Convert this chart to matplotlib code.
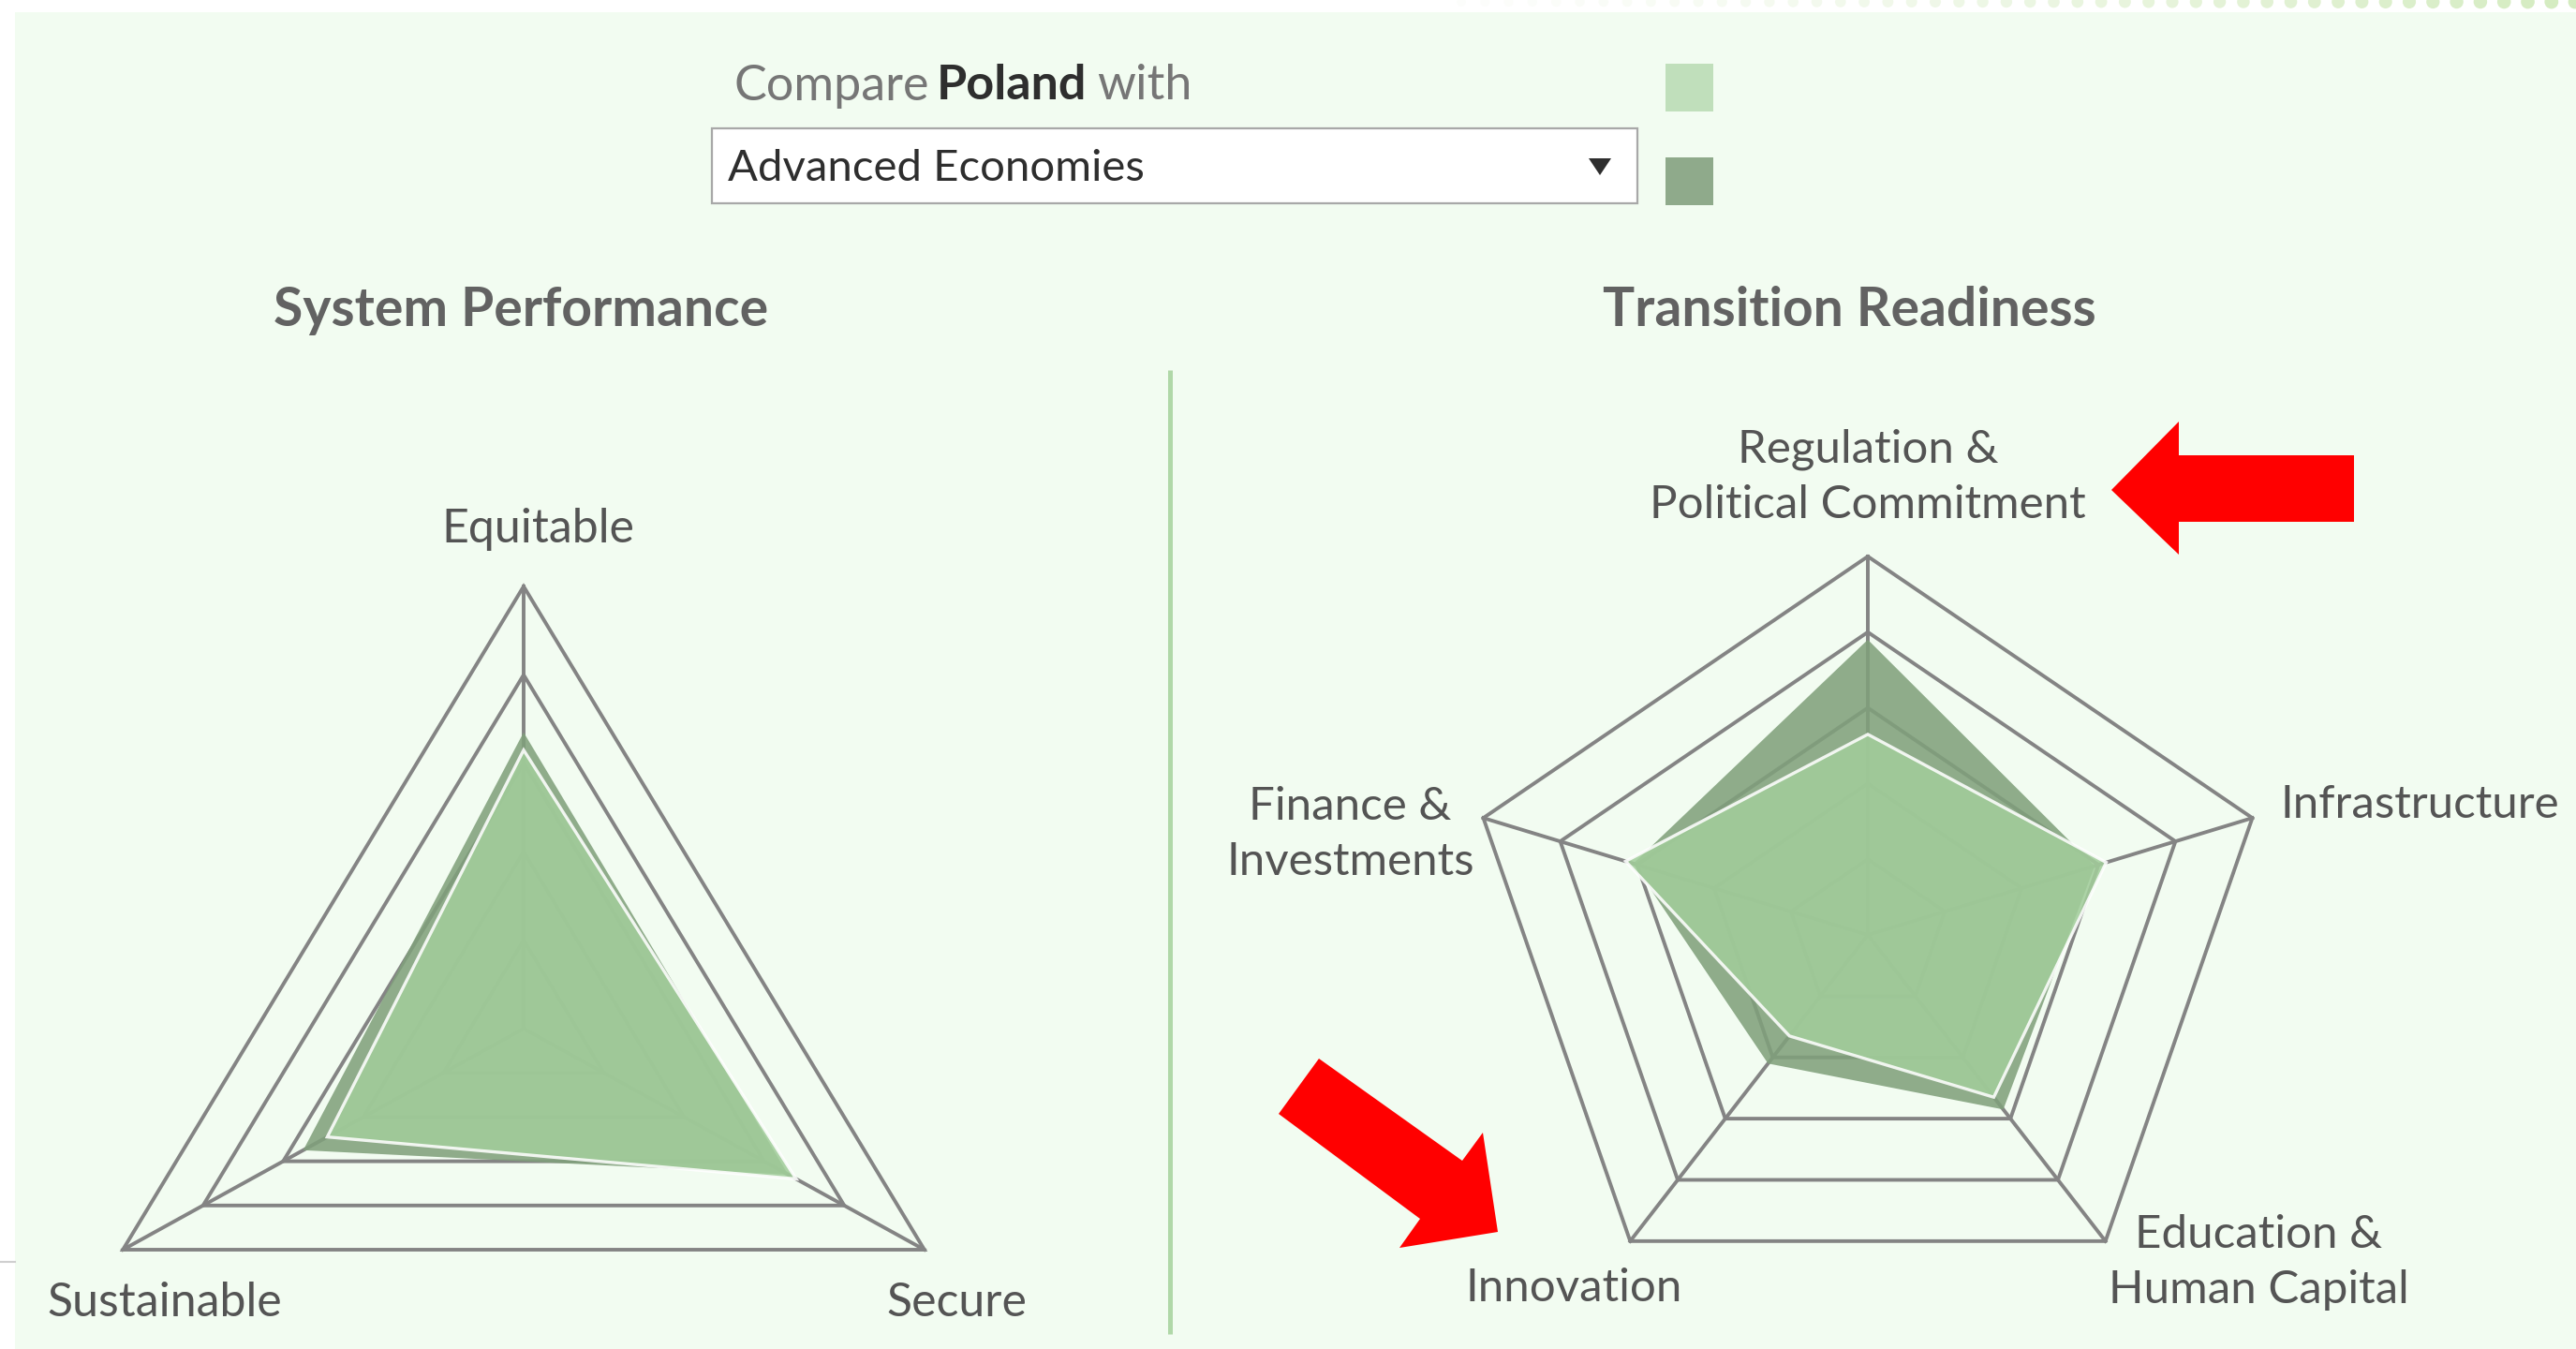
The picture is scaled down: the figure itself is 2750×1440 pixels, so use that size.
import numpy as np
import matplotlib
matplotlib.use("Agg")
import matplotlib.pyplot as plt
from matplotlib.patches import Polygon, Rectangle, Circle

# ---------------- data ----------------
sp_categories = ["Equitable", "Secure", "Sustainable"]
sp_poland = [0.63, 0.68, 0.49]
sp_advanced = [0.67, 0.66, 0.55]

tr_categories = ["Regulation &\nPolitical Commitment", "Infrastructure",
                 "Education &\nHuman Capital", "Innovation", "Finance &\nInvestments"]
tr_poland = [0.53, 0.62, 0.53, 0.33, 0.63]
tr_advanced = [0.78, 0.59, 0.57, 0.42, 0.61]

ring_levels = [0.2, 0.4, 0.6, 0.8, 1.0]
country = "Poland"
comparison = "Advanced Economies"
titles = ["System Performance", "Transition Readiness"]

# ---------------- style ----------------
W, H = 2750, 1440
BG = "#F2FCF1"
GRID = "#848484"
LIGHT = "#A2CD9B"
DARK = "#80A07B"
TXT = "#545454"
FONT = ["Lato", "DejaVu Sans"]
plt.rcParams["font.family"] = FONT

fig = plt.figure(figsize=(W / 100, H / 100), dpi=100)
fig.patch.set_facecolor("white")

# background / decoration axes in pixel coordinates
bg = fig.add_axes([0, 0, 1, 1])
bg.set_xlim(0, W)
bg.set_ylim(H, 0)
bg.axis("off")
bg.add_patch(Rectangle((16, 13), W - 16, H - 13, facecolor=BG, edgecolor="none"))
# dotted strip at top right
xs = np.arange(1560, W + 20, 25.3)
for i, x in enumerate(xs):
    a = min(1.0, 0.05 + 0.95 * (i / len(xs)) ** 1.3)
    bg.add_patch(Circle((x, 2), 5 + 2.5 * i / len(xs), facecolor="#D3EBBE",
                        edgecolor="none", alpha=a))
bg.plot([0, 16], [1347, 1347], color="#CFCFCF", lw=1.5)
# divider
bg.plot([1249, 1249], [395, 1424], color="#B0D8A8", lw=3.6, solid_capstyle="butt")

# swatches
bg.add_patch(Rectangle((1778, 68), 51, 51, facecolor="#C0DFBB", edgecolor="none"))
bg.add_patch(Rectangle((1778, 168), 51, 51, facecolor="#8FAA8B", edgecolor="none"))

# dropdown
bg.add_patch(Rectangle((760, 137), 988, 80, facecolor="white", edgecolor="#A8A8A8", lw=1.6))
bg.text(777, 180, comparison, fontsize=34, color="#2E2E2E", ha="left", va="center")
bg.add_patch(Polygon([[1696, 169], [1720, 169], [1708, 187]], closed=True,
                     facecolor="#2E2E2E", edgecolor="none"))

# "Compare Poland with"
renderer = fig.canvas.get_renderer()
t1 = bg.text(784, 92, "Compare", fontsize=37.5, color="#767676", ha="left", va="center")
bb = t1.get_window_extent(renderer)
x_next = bb.x1 + 7
t2 = fig.text(x_next / W, 1 - 92 / H, country, fontsize=37.5, fontweight="bold",
              color="#2E2E2E", ha="left", va="center")
bb2 = t2.get_window_extent(renderer)
fig.text((bb2.x1 + 11) / W, 1 - 92 / H, "with", fontsize=37.5, color="#767676",
         ha="left", va="center")

# titles
bg.text(556, 331, titles[0], fontsize=41, fontweight="bold", color="#626262",
        ha="center", va="center")
bg.text(1974, 331, titles[1], fontsize=41, fontweight="bold", color="#626262",
        ha="center", va="center")


def px_axes(cx, cy, rx, ry, xlim, ylim):
    left = cx + xlim[0] * rx
    right = cx + xlim[1] * rx
    top = cy - ylim[1] * ry
    bottom = cy - ylim[0] * ry
    ax = fig.add_axes([left / W, 1 - bottom / H, (right - left) / W, (bottom - top) / H])
    ax.set_xlim(*xlim)
    ax.set_ylim(*ylim)
    ax.axis("off")
    ax.patch.set_alpha(0)
    return ax


def radar(ax, n, series, colors, edges):
    ang = np.deg2rad(90 - 360 * np.arange(n) / n)
    ux, uy = np.cos(ang), np.sin(ang)
    for lv in ring_levels:
        ax.add_patch(Polygon(np.c_[ux * lv, uy * lv], closed=True, fill=False,
                             edgecolor=GRID, lw=2.8, zorder=1))
    for k in range(n):
        ax.plot([0, ux[k]], [0, uy[k]], color=GRID, lw=2.8, zorder=1)
    for vals, c, e in zip(series, colors, edges):
        v = np.asarray(vals)
        ax.add_patch(Polygon(np.c_[ux * v, uy * v], closed=True, facecolor=c,
                             edgecolor=e, lw=2.4 if e != "none" else 0,
                             alpha=0.87, zorder=2, joinstyle="miter"))


# left radar
axl = px_axes(559, 1098, 494, 472, (-1.1, 1.1), (-0.65, 1.2))
radar(axl, 3, [sp_advanced, sp_poland], [DARK, LIGHT], ["none", "white"])
sp_label_pos = [(0.03, 1.13), (0.935, -0.62), (-0.776, -0.62)]
for lab, (x, y) in zip(sp_categories, sp_label_pos):
    axl.text(x, y, lab, fontsize=36, color=TXT, ha="center", va="center", clip_on=False)

# right radar
axr = px_axes(1994, 998, 431.6, 404, (-1.3, 1.3), (-1.0, 1.35))
radar(axr, 5, [tr_advanced, tr_poland], [DARK, LIGHT], ["none", "white"])
tr_label_pos = [(0.0, 1.21, "center"), (1.02, 0.343, "left"), (0.967, -0.866, "center"),
                (-0.727, -0.933, "center"), (-1.28, 0.265, "center")]
for lab, (x, y, ha) in zip(tr_categories, tr_label_pos):
    axr.text(x, y, lab, fontsize=35.5, color=TXT, ha=ha, va="center",
             linespacing=1.42, multialignment="center", clip_on=False)

# annotation arrows (top overlay)
top = fig.add_axes([0, 0, 1, 1])
top.set_xlim(0, W)
top.set_ylim(H, 0)
top.axis("off")
top.patch.set_alpha(0)
arrow1 = [[2254, 523], [2326, 450], [2326, 486], [2513, 486], [2513, 557],
          [2326, 557], [2326, 592]]
arrow2 = [[1408, 1130], [1561, 1239], [1583, 1209], [1599, 1315], [1494, 1332],
          [1516, 1301], [1365, 1189]]
for pts in (arrow1, arrow2):
    top.add_patch(Polygon(pts, closed=True, facecolor="#FF0000", edgecolor="none"))

fig.savefig("out.png", dpi=100, facecolor=fig.get_facecolor())
